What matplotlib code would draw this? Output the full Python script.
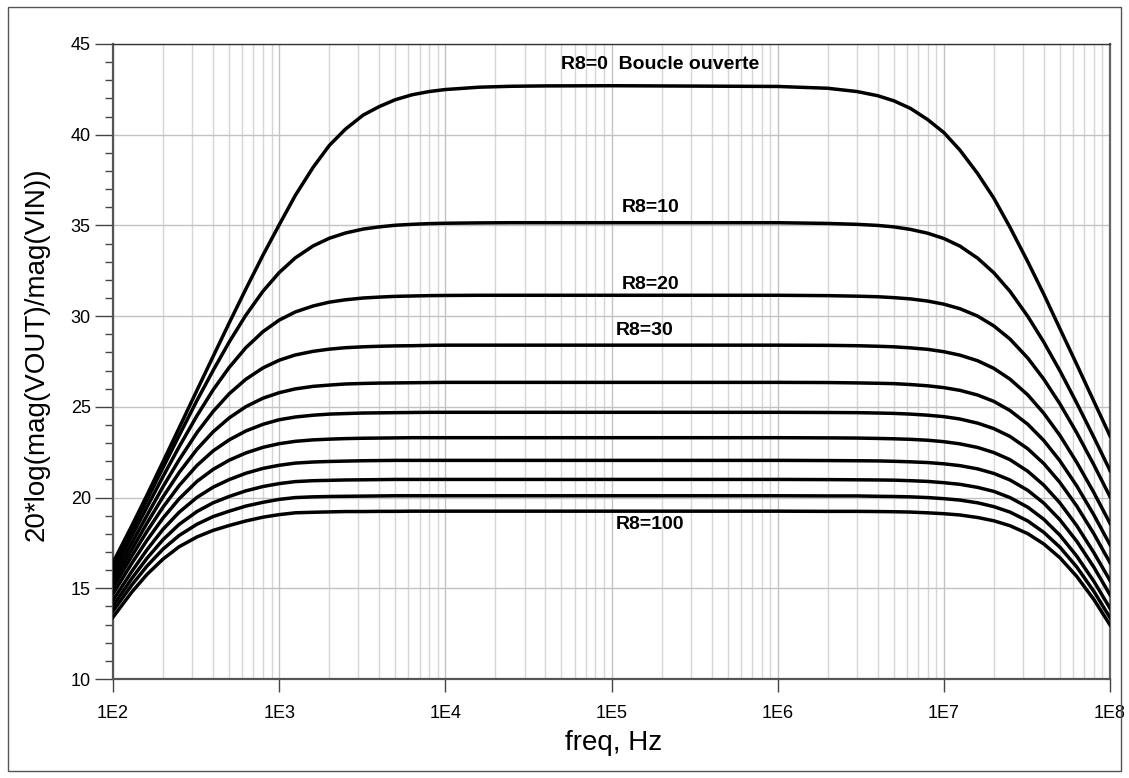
import matplotlib
matplotlib.use("Agg")
import matplotlib.pyplot as plt
from matplotlib.ticker import FixedLocator, NullFormatter, MultipleLocator
from matplotlib.patches import Rectangle

plt.rcParams['font.family'] = ['Liberation Sans', 'DejaVu Sans']

# ---- data ----
freq = [100, 130, 160, 200, 250, 320, 400, 500, 630, 800,
        1e3, 1.25e3, 1.6e3, 2e3, 2.5e3, 3.2e3, 4e3, 5e3, 6.3e3, 8e3,
        1e4, 1.6e4, 2.5e4, 4e4, 1e5, 1e6,
        2e6, 3e6, 4e6, 5e6, 6.3e6, 8e6, 1e7, 1.25e7, 1.6e7, 2e7, 2.5e7, 3.2e7, 4e7, 5e7, 6.3e7, 8e7, 1e8]

r8_0 = [16.42, 18.46, 20.13, 21.98, 23.84, 25.91, 27.77, 29.62, 31.49, 33.37,
        35.03, 36.65, 38.2, 39.4, 40.3, 41.08, 41.55, 41.93, 42.2, 42.38,
        42.49, 42.62, 42.67, 42.69, 42.7, 42.66,
        42.56, 42.38, 42.15, 41.87, 41.45, 40.83, 40.12, 39.15, 37.85, 36.5, 34.9, 33.0, 31.2, 29.3, 27.35, 25.3, 23.4]
r8_10 = [16.22, 18.22, 19.87, 21.65, 23.42, 25.35, 27.0, 28.57, 30.05, 31.38,
         32.4, 33.21, 33.87, 34.29, 34.58, 34.8, 34.92, 35.01, 35.06, 35.1,
         35.12, 35.14, 35.15, 35.15, 35.15, 35.15,
         35.11, 35.06, 35.0, 34.92, 34.78, 34.57, 34.28, 33.86, 33.19, 32.39, 31.37, 29.99, 28.56, 26.98, 25.22, 23.32, 21.49]
r8_20 = [15.92, 17.89, 19.47, 21.16, 22.8, 24.51, 25.93, 27.17, 28.26, 29.15,
         29.78, 30.23, 30.56, 30.77, 30.9, 31.0, 31.05, 31.09, 31.11, 31.13,
         31.14, 31.15, 31.15, 31.15, 31.15, 31.15,
         31.13, 31.1, 31.07, 31.02, 30.95, 30.83, 30.66, 30.41, 30.0, 29.46, 28.74, 27.69, 26.52, 25.16, 23.58, 21.8, 20.05]
r8_30 = [15.61, 17.51, 19.01, 20.6, 22.08, 23.58, 24.74, 25.72, 26.52, 27.15,
         27.57, 27.86, 28.06, 28.18, 28.26, 28.31, 28.34, 28.36, 28.37, 28.39,
         28.4, 28.4, 28.4, 28.4, 28.4, 28.4,
         28.39, 28.37, 28.34, 28.31, 28.25, 28.17, 28.04, 27.85, 27.54, 27.12, 26.53, 25.66, 24.64, 23.42, 21.95, 20.27, 18.58]
r8_40 = [15.31, 17.15, 18.58, 20.04, 21.38, 22.66, 23.62, 24.39, 25.01, 25.48,
         25.78, 25.99, 26.13, 26.2, 26.26, 26.29, 26.31, 26.32, 26.33, 26.34,
         26.35, 26.35, 26.35, 26.35, 26.35, 26.35,
         26.34, 26.32, 26.3, 26.28, 26.23, 26.16, 26.06, 25.91, 25.65, 25.3, 24.8, 24.04, 23.14, 22.02, 20.65, 19.04, 17.4]
r8_50 = [15.02, 16.79, 18.13, 19.47, 20.66, 21.77, 22.57, 23.18, 23.67, 24.04,
         24.29, 24.44, 24.54, 24.6, 24.63, 24.66, 24.67, 24.68, 24.69, 24.7,
         24.7, 24.7, 24.7, 24.7, 24.7, 24.7,
         24.69, 24.68, 24.66, 24.64, 24.6, 24.54, 24.46, 24.33, 24.1, 23.8, 23.37, 22.69, 21.87, 20.83, 19.54, 18.0, 16.41]
r8_60 = [14.7, 16.39, 17.64, 18.87, 19.93, 20.89, 21.55, 22.06, 22.46, 22.77,
         22.97, 23.1, 23.18, 23.22, 23.25, 23.27, 23.28, 23.29, 23.3, 23.3,
         23.3, 23.3, 23.3, 23.3, 23.3, 23.3,
         23.29, 23.28, 23.26, 23.24, 23.21, 23.16, 23.08, 22.96, 22.76, 22.48, 22.09, 21.45, 20.68, 19.7, 18.46, 16.96, 15.43]
r8_70 = [14.34, 15.94, 17.12, 18.25, 19.19, 20.01, 20.57, 20.99, 21.34, 21.61,
         21.78, 21.9, 21.96, 21.99, 22.01, 22.03, 22.04, 22.05, 22.05, 22.05,
         22.05, 22.05, 22.05, 22.05, 22.05, 22.05,
         22.04, 22.03, 22.02, 22.0, 21.97, 21.93, 21.86, 21.76, 21.58, 21.33, 20.97, 20.4, 19.69, 18.77, 17.6, 16.16, 14.64]
r8_80 = [14.02, 15.55, 16.65, 17.68, 18.52, 19.23, 19.71, 20.06, 20.37, 20.61,
         20.77, 20.88, 20.93, 20.95, 20.97, 20.98, 20.99, 21.0, 21.0, 21.0,
         21.0, 21.0, 21.0, 21.0, 21.0, 21.0,
         20.99, 20.98, 20.97, 20.96, 20.93, 20.89, 20.82, 20.73, 20.56, 20.34, 20.0, 19.47, 18.8, 17.92, 16.78, 15.38, 13.9]
r8_90 = [13.74, 15.19, 16.22, 17.16, 17.91, 18.53, 18.95, 19.25, 19.53, 19.74,
         19.9, 20.0, 20.04, 20.06, 20.07, 20.08, 20.09, 20.1, 20.1, 20.1,
         20.1, 20.1, 20.1, 20.1, 20.1, 20.1,
         20.09, 20.09, 20.07, 20.06, 20.04, 20.0, 19.94, 19.86, 19.71, 19.5, 19.2, 18.71, 18.08, 17.26, 16.18, 14.83, 13.38]
r8_100 = [13.41, 14.8, 15.76, 16.61, 17.29, 17.83, 18.19, 18.46, 18.71, 18.92,
          19.06, 19.16, 19.19, 19.21, 19.23, 19.23, 19.24, 19.24, 19.25, 19.25,
          19.25, 19.25, 19.25, 19.25, 19.25, 19.25,
          19.24, 19.24, 19.23, 19.22, 19.2, 19.16, 19.11, 19.04, 18.9, 18.72, 18.45, 18.01, 17.44, 16.68, 15.66, 14.38, 12.98]

curves = [r8_0, r8_10, r8_20, r8_30, r8_40, r8_50, r8_60, r8_70, r8_80, r8_90, r8_100]

decade_ticks = [1e2, 1e3, 1e4, 1e5, 1e6, 1e7, 1e8]
decade_labels = ['1E2', '1E3', '1E4', '1E5', '1E6', '1E7', '1E8']

labels = ['R8=0  Boucle ouverte', 'R8=10', 'R8=20', 'R8=30', 'R8=100']
label_pos = [(5.0e4, 43.85, 'left'), (1.73e5, 36.0, 'center'), (1.73e5, 31.73, 'center'),
             (1.58e5, 29.2, 'center'), (1.71e5, 18.52, 'center')]

# ---- figure ----
W, H = 1129, 778
fig = plt.figure(figsize=(W / 100, H / 100), dpi=100)
fig.patch.set_facecolor('white')
L, R, T, B = 113, 1110, 44, 679
ax = fig.add_axes([L / W, 1 - B / H, (R - L) / W, (B - T) / H])

for c in curves:
    ax.plot(freq, c, color='black', lw=2.5, solid_joinstyle='round', zorder=3)

ax.set_xscale('log')
ax.set_xlim(1e2, 1e8)
ax.set_ylim(10, 45)

ax.xaxis.set_major_locator(FixedLocator(decade_ticks))
ax.set_xticklabels(decade_labels)
minor_x = [m * 10 ** e for e in range(2, 8) for m in range(2, 10)]
ax.xaxis.set_minor_locator(FixedLocator(minor_x))
ax.xaxis.set_minor_formatter(NullFormatter())
ax.yaxis.set_major_locator(MultipleLocator(5))
ax.yaxis.set_minor_locator(MultipleLocator(1))

ax.grid(which='major', axis='both', color='#c2c2c2', lw=1.0, zorder=0)
ax.grid(which='minor', axis='x', color='#d6d6d6', lw=1.0, zorder=0)

ax.tick_params(axis='y', which='major', length=13, width=1.0, color='#444444',
               labelsize=13, pad=3)
ax.tick_params(axis='y', which='minor', length=5.8, width=1.0, color='#444444')
ax.tick_params(axis='x', which='major', length=9, width=1.0, color='#444444',
               labelsize=13, pad=10)
ax.tick_params(axis='x', which='minor', length=0)

for s in ['left', 'bottom']:
    ax.spines[s].set_color('#555555')
    ax.spines[s].set_linewidth(1.6)
ax.spines['top'].set_color('#333333')
ax.spines['top'].set_linewidth(1.0)
ax.spines['right'].set_color('#666666')
ax.spines['right'].set_linewidth(1.6)

for txt, (x, y, ha) in zip(labels, label_pos):
    ax.text(x, y, txt, fontsize=14, fontweight='bold', ha=ha, va='center', zorder=4)

fig.text(37 / W, 1 - 354 / H, '20*log(mag(VOUT)/mag(VIN))', rotation=90,
         fontsize=20, ha='center', va='center')
fig.text(614 / W, 1 - 743 / H, 'freq, Hz', fontsize=20, ha='center', va='center')

fig.patches.append(Rectangle((8 / W, 1 - 771 / H), (1121 - 8) / W, (771 - 7) / H,
                             transform=fig.transFigure, fill=False,
                             edgecolor='#555555', lw=1.0))

fig.savefig('out.png', dpi=100, facecolor='white')
